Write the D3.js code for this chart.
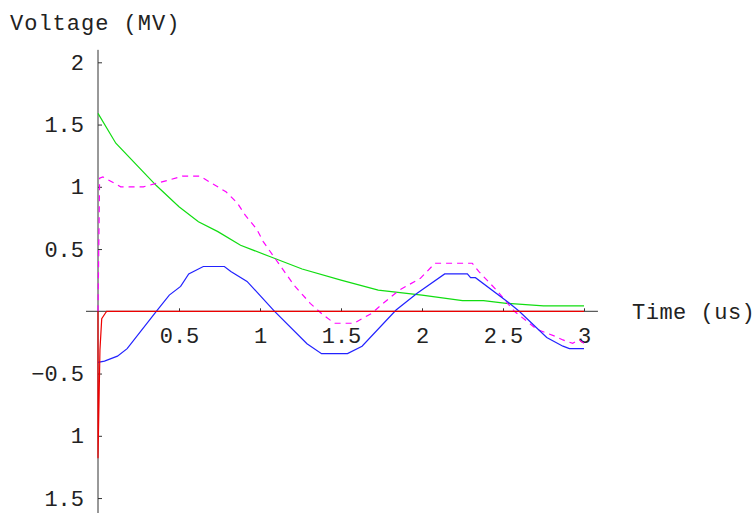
<!DOCTYPE html>
<html>
<head>
<meta charset="utf-8">
<script src="https://cdn.jsdelivr.net/npm/d3@7"></script>
<style>
  html, body { margin: 0; padding: 0; background: #fff; }
  svg { display: block; }
  text { font-family: "Liberation Mono", "DejaVu Sans Mono", monospace; fill: #222; }
</style>
</head>
<body>
<svg id="chart" width="755" height="513"></svg>
<script>
// Time in microseconds, voltage in MV
const greenT = [0, 0.11, 0.36, 0.5, 0.62, 0.74, 0.88, 1.06, 1.26, 1.5, 1.73, 2.0, 2.25, 2.38, 2.52, 2.75, 3];
const greenV = [1.59, 1.35, 1.01, 0.84, 0.72, 0.64, 0.53, 0.44, 0.34, 0.25, 0.17, 0.13, 0.085, 0.085, 0.064, 0.043, 0.043];

const blueT = [0, 0.04, 0.12, 0.18, 0.36, 0.44, 0.51, 0.56, 0.65, 0.78, 0.82, 0.92, 1.09, 1.29, 1.38, 1.54, 1.63, 1.84, 1.97, 2.14, 2.28, 2.30, 2.33, 2.54, 2.6, 2.77, 2.87, 2.91, 3];
const blueV = [-0.41, -0.40, -0.36, -0.30, 0, 0.13, 0.20, 0.30, 0.36, 0.36, 0.32, 0.24, 0, -0.26, -0.34, -0.34, -0.28, 0.01, 0.145, 0.30, 0.30, 0.27, 0.27, 0.064, 0, -0.21, -0.28, -0.30, -0.30];

const magentaT = [0, 0.01, 0.03, 0.14, 0.28, 0.44, 0.52, 0.63, 0.70, 0.79, 0.86, 0.91, 0.98, 1.02, 1.09, 1.21, 1.31, 1.39, 1.46, 1.58, 1.69, 1.76, 1.86, 1.99, 2.08, 2.31, 2.35, 2.46, 2.57, 2.71, 2.82, 2.87, 2.93, 2.97, 3];
const magentaV = [0, 1.07, 1.08, 1.0, 1.0, 1.055, 1.085, 1.085, 1.03, 0.96, 0.87, 0.77, 0.66, 0.56, 0.43, 0.21, 0.064, -0.03, -0.096, -0.096, -0.016, 0.064, 0.17, 0.265, 0.386, 0.386, 0.32, 0.17, 0, -0.145, -0.2, -0.23, -0.257, -0.23, -0.257];

const redT = [0, 0, 0.012, 0.023, 0.043, 0.053, 3];
const redV = [0, -1.18, -0.31, -0.06, -0.02, 0, 0];

const xTickValues = [0.5, 1, 1.5, 2, 2.5, 3];
const xTickLabels = ["0.5", "1", "1.5", "2", "2.5", "3"];
const yTickValues = [-1.5, -1, -0.5, 0.5, 1, 1.5, 2];
const yTickLabels = ["1.5", "1", "\u22120.5", "0.5", "1", "1.5", "2"];

const xTitle = "Time (us)";
const yTitle = "Voltage (MV)";

const svg = d3.select("#chart");

const x = d3.scaleLinear().domain([0, 3]).range([98, 584]);
const y = d3.scaleLinear().domain([-1.5, 2]).range([498.05, 62.3]);

// axis lines through the origin
svg.append("line")
  .attr("x1", x(-0.074)).attr("x2", x(3.086))
  .attr("y1", y(0)).attr("y2", y(0))
  .attr("stroke", "#333").attr("stroke-width", 1);
svg.append("line")
  .attr("x1", x(0)).attr("x2", x(0))
  .attr("y1", y(2.1)).attr("y2", 513)
  .attr("stroke", "#333").attr("stroke-width", 1);

const xAxis = d3.axisBottom(x)
  .tickValues(xTickValues)
  .tickFormat((d, i) => xTickLabels[i])
  .tickSize(-3)
  .tickPadding(16);
const xg = svg.append("g").attr("transform", `translate(0,${y(0)})`).call(xAxis);
xg.select(".domain").remove();
xg.selectAll(".tick line").attr("stroke", "#333");
xg.selectAll(".tick text").attr("font-size", 22).attr("font-family", null).attr("fill", "#222");

const yAxis = d3.axisLeft(y)
  .tickValues(yTickValues)
  .tickFormat((d, i) => yTickLabels[i])
  .tickSize(-4)
  .tickPadding(14);
const yg = svg.append("g").attr("transform", `translate(${x(0)},0)`).call(yAxis);
yg.select(".domain").remove();
yg.selectAll(".tick line").attr("stroke", "#333");
yg.selectAll(".tick text").attr("font-size", 22).attr("font-family", null).attr("fill", "#222");

// axis titles
svg.append("text").attr("x", 10).attr("y", 30).attr("font-size", 22)
  .attr("letter-spacing", 1).text(yTitle);
svg.append("text").attr("x", 632).attr("y", 319).attr("font-size", 22)
  .attr("letter-spacing", 0.5).text(xTitle);

const line = d3.line().x(d => x(d[0])).y(d => y(d[1]));
const zip = (t, v) => t.map((ti, i) => [ti, v[i]]);

const series = [
  { t: greenT, v: greenV, color: "#11dd11", dash: null },
  { t: magentaT, v: magentaV, color: "#ff00ff", dash: "6,5" },
  { t: blueT, v: blueV, color: "#2222ff", dash: null },
  { t: redT, v: redV, color: "#ee0000", dash: null }
];

svg.append("g").selectAll("path")
  .data(series)
  .join("path")
  .attr("d", s => line(zip(s.t, s.v)))
  .attr("fill", "none")
  .attr("stroke", s => s.color)
  .attr("stroke-width", 1.2)
  .attr("stroke-dasharray", s => s.dash);
</script>
</body>
</html>
